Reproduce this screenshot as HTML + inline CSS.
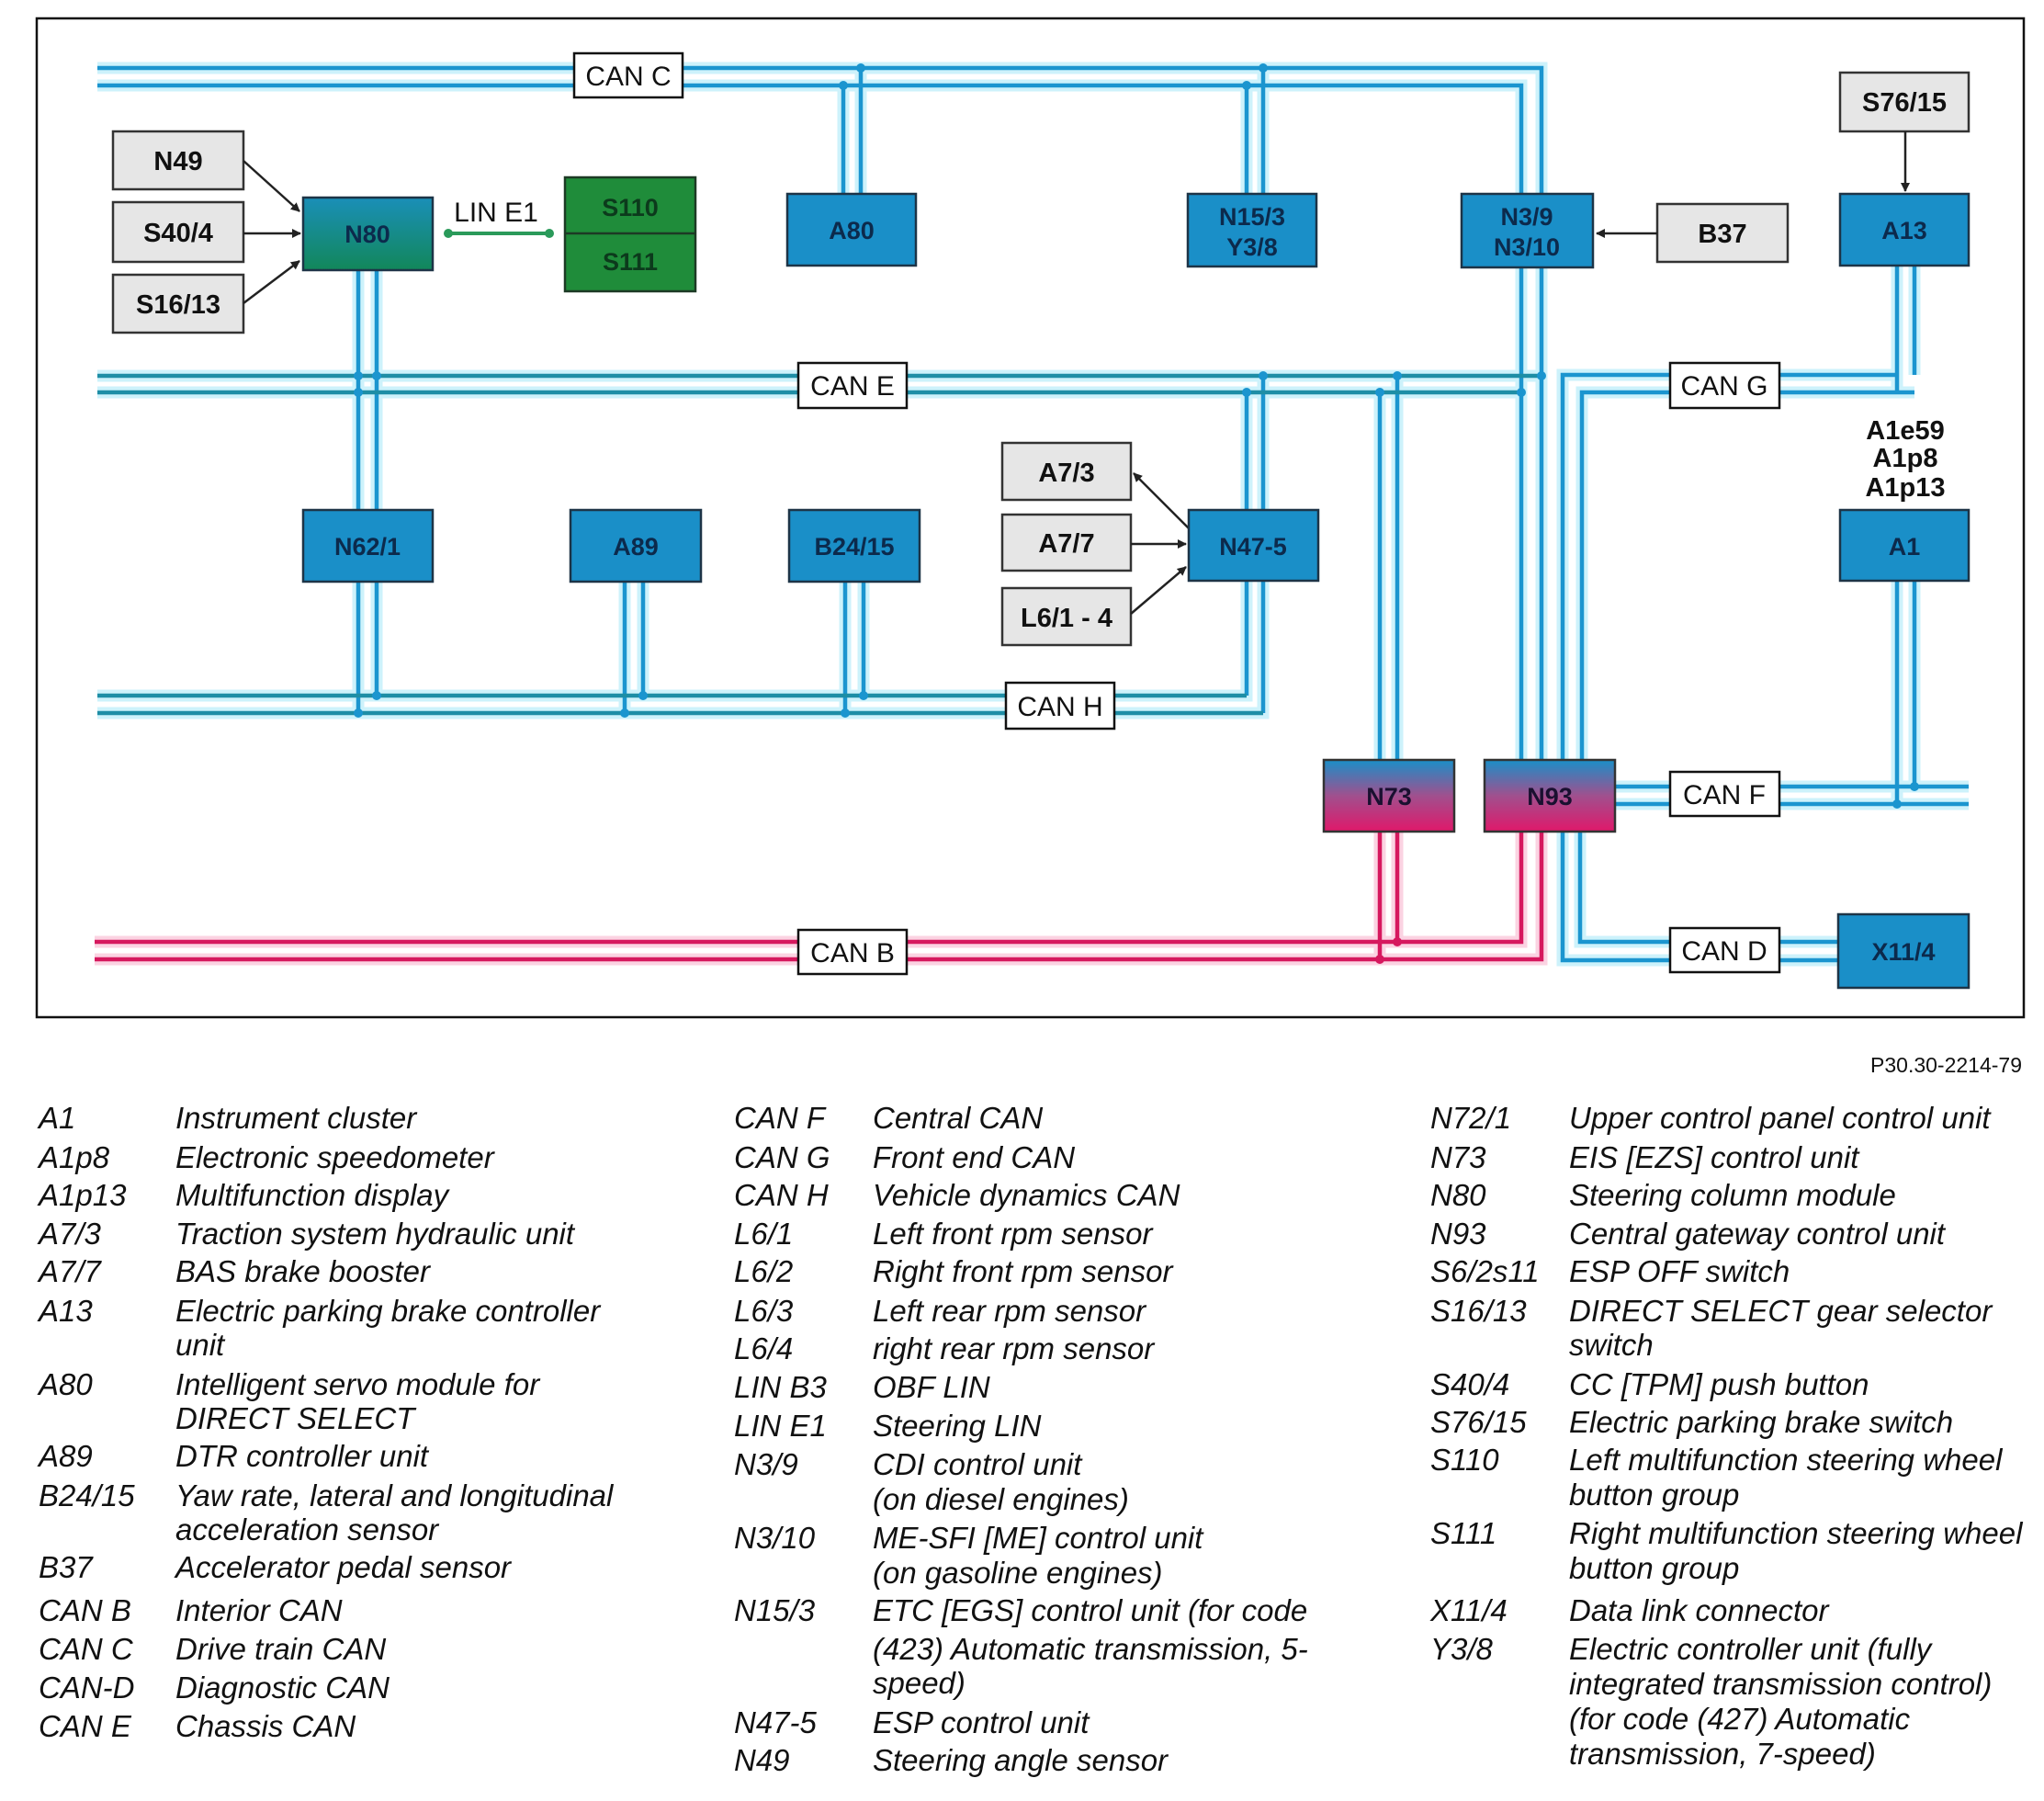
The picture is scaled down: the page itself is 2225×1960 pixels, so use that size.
<!DOCTYPE html>
<html><head><meta charset="utf-8"><style>
html,body{margin:0;padding:0;background:#fff;}
svg{display:block;}
.g{fill:none;stroke:#cdf2fb;stroke-width:13;stroke-linejoin:miter}
.b{fill:none;stroke:#1b95cf;stroke-width:4.5;stroke-linejoin:miter}
.e{fill:none;stroke:#1e8ea6;stroke-width:4.5}
.pg{fill:none;stroke:#fbd3e2;stroke-width:13}
.p{fill:none;stroke:#d6185e;stroke-width:4.5}
.box{fill:#1a8fc8;stroke:#1d3447;stroke-width:2.5}
.bt{font:bold 27px "Liberation Sans",sans-serif;fill:#0c2a4c;text-anchor:middle}
.gr{fill:#e6e6e6;stroke:#333;stroke-width:2.5}
.gt{font:bold 29px "Liberation Sans",sans-serif;fill:#111;text-anchor:middle}
.lb{fill:#fff;stroke:#111;stroke-width:2.5}
.lt{font:30px "Liberation Sans",sans-serif;fill:#111;text-anchor:middle}
.k{stroke:#222;stroke-width:2.5;fill:none}
.L{font:italic 33px "Liberation Sans",sans-serif;fill:#111}
.dot{fill:#1b95cf}
</style></head><body>
<svg width="2225" height="1960" viewBox="0 0 2225 1960" xmlns="http://www.w3.org/2000/svg">
<defs>
<marker id="ar" markerWidth="10" markerHeight="10" refX="9" refY="5" orient="auto" markerUnits="userSpaceOnUse"><path d="M0,0 L10,5 L0,10 z" fill="#222"/></marker>
<linearGradient id="pk" x1="0" y1="0" x2="0" y2="1"><stop offset="0" stop-color="#1a8fc8"/><stop offset="0.5" stop-color="#a0508e"/><stop offset="1" stop-color="#e0186a"/></linearGradient>
<linearGradient id="tl" x1="0" y1="0" x2="0" y2="1"><stop offset="0" stop-color="#1a8fb8"/><stop offset="1" stop-color="#12875a"/></linearGradient>
</defs>
<rect x="40" y="20" width="2163" height="1087" fill="none" stroke="#111" stroke-width="2.5"/>

<g class="g">
<path d="M106 74 H1678 V211 M106 93 H1656 V211"/>
<path d="M918 93 V211 M937 74 V211 M1357 93 V211 M1375 74 V211"/>
<path d="M106 409 H1678 M106 427 H1656"/>
<path d="M390 294 V555 M410 294 V555"/>
<path d="M1357 427 V555 M1375 409 V555 M1502 427 V827 M1521 409 V827"/>
<path d="M1656 291 V827 M1678 291 V827"/>
<path d="M2065 289 V427 M2084 289 V408 M1701 827 V408 H2065 M1722 827 V427 H2084"/>
<path d="M390 633 V776 M410 633 V757 M680 633 V776 M700 633 V757 M920 633 V776 M940 633 V757"/>
<path d="M106 757 H1357 V632 M106 776 H1375 V632"/>
<path d="M1758 856 H2143 M1758 875 H2143 M2065 632 V875 M2084 632 V856"/>
<path d="M1701 905 V1045 H2003 M1720 905 V1025 H2003"/>
</g>
<g class="pg"><path d="M103 1025 H1656 V905 M103 1044 H1678 V905 M1502 905 V1044 M1521 905 V1025"/></g>

<g class="b">
<path d="M106 74 H1678 V211 M106 93 H1656 V211"/>
<path d="M918 93 V211 M937 74 V211 M1357 93 V211 M1375 74 V211"/>
<path d="M1656 291 V827 M1678 291 V827"/>
<path d="M2065 289 V427 M2084 289 V408 M1701 827 V408 H2065 M1722 827 V427 H2084"/>
<path d="M1758 856 H2143 M1758 875 H2143 M2065 632 V875 M2084 632 V856"/>
<path d="M1701 905 V1045 H2003 M1720 905 V1025 H2003"/>
<path d="M390 294 V555 M410 294 V555 M390 633 V776 M410 633 V757 M680 633 V776 M700 633 V757 M920 633 V776 M940 633 V757"/>
<path d="M1357 427 V555 M1375 409 V555 M1502 427 V827 M1521 409 V827"/>
<path d="M1357 632 V757 M1375 632 V776"/>
</g>
<g class="e">
<path d="M106 409 H1678 M106 427 H1656"/>
<path d="M106 757 H1357 M106 776 H1375"/>
</g>
<g class="p"><path d="M103 1025 H1656 V905 M103 1044 H1678 V905 M1502 905 V1044 M1521 905 V1025"/></g>
<g class="dot">
<circle cx="937" cy="74" r="5"/><circle cx="918" cy="93" r="5"/><circle cx="1375" cy="74" r="5"/><circle cx="1357" cy="93" r="5"/>
<circle cx="390" cy="409" r="5"/><circle cx="410" cy="409" r="5"/><circle cx="390" cy="427" r="5"/>
<circle cx="1375" cy="409" r="5"/><circle cx="1357" cy="427" r="5"/><circle cx="1521" cy="409" r="5"/><circle cx="1502" cy="427" r="5"/><circle cx="1678" cy="409" r="5"/><circle cx="1656" cy="427" r="5"/>
<circle cx="410" cy="757" r="5"/><circle cx="390" cy="776" r="5"/><circle cx="700" cy="757" r="5"/><circle cx="680" cy="776" r="5"/><circle cx="940" cy="757" r="5"/><circle cx="920" cy="776" r="5"/>
<circle cx="2084" cy="856" r="5"/><circle cx="2065" cy="875" r="5"/>
</g>
<circle cx="1521" cy="1025" r="5" fill="#d6185e"/><circle cx="1502" cy="1044" r="5" fill="#d6185e"/>

<rect class="lb" x="625" y="58" width="118" height="48"/><text class="lt" x="684" y="93">CAN C</text>
<rect class="lb" x="869" y="395" width="118" height="49"/><text class="lt" x="928" y="430">CAN E</text>
<rect class="lb" x="1818" y="395" width="119" height="49"/><text class="lt" x="1877" y="430">CAN G</text>
<rect class="lb" x="1095" y="743" width="118" height="50"/><text class="lt" x="1154" y="779">CAN H</text>
<rect class="lb" x="1818" y="840" width="119" height="48"/><text class="lt" x="1877" y="875">CAN F</text>
<rect class="lb" x="869" y="1012" width="118" height="48"/><text class="lt" x="928" y="1047">CAN B</text>
<rect class="lb" x="1818" y="1010" width="119" height="48"/><text class="lt" x="1877" y="1045">CAN D</text>

<rect class="gr" x="123" y="143" width="142" height="63"/><text class="gt" x="194" y="185">N49</text>
<rect class="gr" x="123" y="220" width="142" height="65"/><text class="gt" x="194" y="263">S40/4</text>
<rect class="gr" x="123" y="299" width="142" height="63"/><text class="gt" x="194" y="341">S16/13</text>
<rect class="gr" x="1804" y="222" width="142" height="63"/><text class="gt" x="1875" y="264">B37</text>
<rect class="gr" x="2003" y="79" width="140" height="64"/><text class="gt" x="2073" y="121">S76/15</text>
<rect class="gr" x="1091" y="482" width="140" height="62"/><text class="gt" x="1161" y="524">A7/3</text>
<rect class="gr" x="1091" y="560" width="140" height="61"/><text class="gt" x="1161" y="601">A7/7</text>
<rect class="gr" x="1091" y="640" width="140" height="62"/><text class="gt" x="1161" y="682">L6/1 - 4</text>

<path class="k" d="M265 175 L326 230" marker-end="url(#ar)"/>
<path class="k" d="M265 254 L327 254" marker-end="url(#ar)"/>
<path class="k" d="M265 330 L326 284" marker-end="url(#ar)"/>
<path class="k" d="M1804 254 L1738 254" marker-end="url(#ar)"/>
<path class="k" d="M2074 143 L2074 208" marker-end="url(#ar)"/>
<path class="k" d="M1294 575 L1234 515" marker-end="url(#ar)"/>
<path class="k" d="M1231 592 L1291 592" marker-end="url(#ar)"/>
<path class="k" d="M1231 668 L1291 617" marker-end="url(#ar)"/>

<path d="M486 254 H600" stroke="#2a9a5a" stroke-width="4"/>
<circle cx="488" cy="254" r="5" fill="#2a9a5a"/><circle cx="598" cy="254" r="5" fill="#2a9a5a"/>
<text x="540" y="241" style="font:30px 'Liberation Sans',sans-serif;fill:#111;text-anchor:middle">LIN E1</text>

<rect x="330" y="215" width="141" height="79" fill="url(#tl)" stroke="#1d3447" stroke-width="2.5"/><text class="bt" x="400" y="264">N80</text>
<rect x="615" y="193" width="142" height="124" fill="#1f8c3a" stroke="#1d3a25" stroke-width="2.5"/><line x1="615" y1="254" x2="757" y2="254" stroke="#1d3a25" stroke-width="2.5"/>
<text class="bt" x="686" y="235" style="fill:#0c3a1c">S110</text><text class="bt" x="686" y="294" style="fill:#0c3a1c">S111</text>
<rect class="box" x="857" y="211" width="140" height="78"/><text class="bt" x="927" y="260">A80</text>
<rect class="box" x="1293" y="211" width="140" height="79"/><text class="bt" x="1363" y="245">N15/3</text><text class="bt" x="1363" y="278">Y3/8</text>
<rect class="box" x="1591" y="211" width="143" height="80"/><text class="bt" x="1662" y="245">N3/9</text><text class="bt" x="1662" y="278">N3/10</text>
<rect class="box" x="2003" y="211" width="140" height="78"/><text class="bt" x="2073" y="260">A13</text>
<rect class="box" x="330" y="555" width="141" height="78"/><text class="bt" x="400" y="604">N62/1</text>
<rect class="box" x="621" y="555" width="142" height="78"/><text class="bt" x="692" y="604">A89</text>
<rect class="box" x="859" y="555" width="142" height="78"/><text class="bt" x="930" y="604">B24/15</text>
<rect class="box" x="1294" y="555" width="141" height="77"/><text class="bt" x="1364" y="604">N47-5</text>
<rect class="box" x="2003" y="555" width="140" height="77"/><text class="bt" x="2073" y="604">A1</text>
<rect x="1441" y="827" width="142" height="78" fill="url(#pk)" stroke="#333" stroke-width="2.5"/><text class="bt" x="1512" y="876" style="fill:#1a1030">N73</text>
<rect x="1616" y="827" width="142" height="78" fill="url(#pk)" stroke="#333" stroke-width="2.5"/><text class="bt" x="1687" y="876" style="fill:#1a1030">N93</text>
<rect class="box" x="2001" y="995" width="142" height="80"/><text class="bt" x="2072" y="1045">X11/4</text>
<g class="gt"><text x="2074" y="478">A1e59</text><text x="2074" y="508">A1p8</text><text x="2074" y="540">A1p13</text></g>

<text x="2201" y="1167" style="font:23px 'Liberation Sans',sans-serif;fill:#111;text-anchor:end">P30.30-2214-79</text>

<g class="L" transform="translate(0,-5)">
<text x="42" y="1233">A1</text><text x="191" y="1233">Instrument cluster</text>
<text x="42" y="1276">A1p8</text><text x="191" y="1276">Electronic speedometer</text>
<text x="42" y="1317">A1p13</text><text x="191" y="1317">Multifunction display</text>
<text x="42" y="1359">A7/3</text><text x="191" y="1359">Traction system hydraulic unit</text>
<text x="42" y="1400">A7/7</text><text x="191" y="1400">BAS brake booster</text>
<text x="42" y="1443">A13</text><text x="191" y="1443">Electric parking brake controller</text><text x="191" y="1480">unit</text>
<text x="42" y="1523">A80</text><text x="191" y="1523">Intelligent servo module for</text><text x="191" y="1560">DIRECT SELECT</text>
<text x="42" y="1601">A89</text><text x="191" y="1601">DTR controller unit</text>
<text x="42" y="1644">B24/15</text><text x="191" y="1644">Yaw rate, lateral and longitudinal</text><text x="191" y="1681">acceleration sensor</text>
<text x="42" y="1722">B37</text><text x="191" y="1722">Accelerator pedal sensor</text>
<text x="42" y="1769">CAN B</text><text x="191" y="1769">Interior CAN</text>
<text x="42" y="1811">CAN C</text><text x="191" y="1811">Drive train CAN</text>
<text x="42" y="1853">CAN-D</text><text x="191" y="1853">Diagnostic CAN</text>
<text x="42" y="1895">CAN E</text><text x="191" y="1895">Chassis CAN</text>

<text x="799" y="1233">CAN F</text><text x="950" y="1233">Central CAN</text>
<text x="799" y="1276">CAN G</text><text x="950" y="1276">Front end CAN</text>
<text x="799" y="1317">CAN H</text><text x="950" y="1317">Vehicle dynamics CAN</text>
<text x="799" y="1359">L6/1</text><text x="950" y="1359">Left front rpm sensor</text>
<text x="799" y="1400">L6/2</text><text x="950" y="1400">Right front rpm sensor</text>
<text x="799" y="1443">L6/3</text><text x="950" y="1443">Left rear rpm sensor</text>
<text x="799" y="1484">L6/4</text><text x="950" y="1484">right rear rpm sensor</text>
<text x="799" y="1526">LIN B3</text><text x="950" y="1526">OBF LIN</text>
<text x="799" y="1568">LIN E1</text><text x="950" y="1568">Steering LIN</text>
<text x="799" y="1610">N3/9</text><text x="950" y="1610">CDI control unit</text><text x="950" y="1648">(on diesel engines)</text>
<text x="799" y="1690">N3/10</text><text x="950" y="1690">ME-SFI [ME] control unit</text><text x="950" y="1728">(on gasoline engines)</text>
<text x="799" y="1769">N15/3</text><text x="950" y="1769">ETC [EGS] control unit (for code</text><text x="950" y="1811">(423) Automatic transmission, 5-</text><text x="950" y="1848">speed)</text>
<text x="799" y="1891">N47-5</text><text x="950" y="1891">ESP control unit</text>
<text x="799" y="1932">N49</text><text x="950" y="1932">Steering angle sensor</text>

<text x="1557" y="1233">N72/1</text><text x="1708" y="1233">Upper control panel control unit</text>
<text x="1557" y="1276">N73</text><text x="1708" y="1276">EIS [EZS] control unit</text>
<text x="1557" y="1317">N80</text><text x="1708" y="1317">Steering column module</text>
<text x="1557" y="1359">N93</text><text x="1708" y="1359">Central gateway control unit</text>
<text x="1557" y="1400">S6/2s11</text><text x="1708" y="1400">ESP OFF switch</text>
<text x="1557" y="1443">S16/13</text><text x="1708" y="1443">DIRECT SELECT gear selector</text><text x="1708" y="1480">switch</text>
<text x="1557" y="1523">S40/4</text><text x="1708" y="1523">CC [TPM] push button</text>
<text x="1557" y="1564">S76/15</text><text x="1708" y="1564">Electric parking brake switch</text>
<text x="1557" y="1605">S110</text><text x="1708" y="1605">Left multifunction steering wheel</text><text x="1708" y="1643">button group</text>
<text x="1557" y="1685">S111</text><text x="1708" y="1685">Right multifunction steering wheel</text><text x="1708" y="1723">button group</text>
<text x="1557" y="1769">X11/4</text><text x="1708" y="1769">Data link connector</text>
<text x="1557" y="1811">Y3/8</text><text x="1708" y="1811">Electric controller unit (fully</text><text x="1708" y="1849">integrated transmission control)</text><text x="1708" y="1887">(for code (427) Automatic</text><text x="1708" y="1925">transmission, 7-speed)</text>
</g>
</svg>
</body></html>
